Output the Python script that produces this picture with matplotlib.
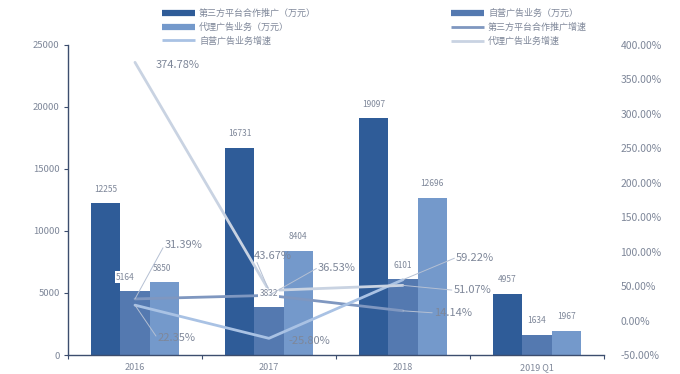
import matplotlib
matplotlib.use('Agg')
import matplotlib.pyplot as plt
from matplotlib.lines import Line2D
from matplotlib.ticker import FuncFormatter, MultipleLocator
import numpy as np

plt.rcParams['font.family'] = ['Noto Sans CJK SC', 'DejaVu Sans']

# ---------------- data ----------------
categories = ['2016', '2017', '2018', '2019 Q1']
third_party = [12255, 16731, 19097, 4957]          # 第三方平台合作推广（万元）
self_run = [5164, 3832, 6101, 1634]                # 自营广告业务（万元）
agency = [5850, 8404, 12696, 1967]                 # 代理广告业务（万元）

growth_categories = ['2016', '2017', '2018']
third_party_growth = [31.39, 36.53, 14.14]         # 第三方平台合作推广增速 (%)
self_run_growth = [22.35, -25.80, 59.22]           # 自营广告业务增速 (%)
agency_growth = [374.78, 43.67, 51.07]             # 代理广告业务增速 (%)

bar_names = ['第三方平台合作推广（万元）', '自营广告业务（万元）', '代理广告业务（万元）']
line_names = ['第三方平台合作推广增速', '自营广告业务增速', '代理广告业务增速']

left_ticks = [0, 5000, 10000, 15000, 20000, 25000]

# ---------------- style ----------------
bar_colors = ['#2F5C98', '#5479B0', '#7499CB']
line_colors = ['#7F97C0', '#A9C2E4', '#C9D3E2']
text_color = '#7E8799'
axis_color = '#3C4D6E'

fig = plt.figure(figsize=(6.8, 3.74), dpi=100)
ax = fig.add_axes([0.100, 0.0508, 0.788, 0.829])
ax2 = ax.twinx()

x = np.arange(len(categories))
w = 0.22
offsets = [-w, 0, w]
series = [third_party, self_run, agency]
for s, off, c in zip(series, offsets, bar_colors):
    ax.bar(x + off, s, width=w, color=c, zorder=2)

ax.set_xlim(-0.5, len(categories) - 0.5)
ax.set_ylim(0, 25000)
ax.set_yticks(left_ticks)
ax.set_yticklabels([str(t) for t in left_ticks], fontsize=6.8, color=text_color)
ax.set_xticks(x)
ax.set_xticklabels(categories, fontsize=6.5, color=text_color)
ax.tick_params(axis='x', which='major', length=0, pad=6)
ax.set_xticks(np.arange(-0.5, len(categories)), minor=True)
ax.tick_params(axis='x', which='minor', length=3, color=axis_color, width=0.8)
ax.tick_params(axis='y', length=3, color=axis_color, width=0.8, pad=3)
for sp in ['top', 'right']:
    ax.spines[sp].set_visible(False)
ax.spines['left'].set_color(axis_color)
ax.spines['bottom'].set_color(axis_color)
ax.spines['left'].set_linewidth(1.0)
ax.spines['bottom'].set_linewidth(1.0)

# ---------------- lines ----------------
gx = np.arange(len(growth_categories))
growths = [third_party_growth, self_run_growth, agency_growth]
for g, c in zip(growths, line_colors):
    ax2.plot(gx, g, color=c, lw=2.0, solid_capstyle='round', zorder=3)

ax2.set_ylim(-50, 400)
ax2.yaxis.set_major_locator(MultipleLocator(50))
ax2.yaxis.set_major_formatter(FuncFormatter(lambda v, p: f'{v:.2f}%'))
ax2.tick_params(axis='y', length=0, labelsize=7.5, labelcolor=text_color, pad=12)
for sp in ax2.spines.values():
    sp.set_visible(False)

# bar value labels (drawn on the top axes so they sit above the lines)
bar_label_dx = [[0, 0, 0, 0], [-7, 0, 0, 0], [-2, 0, 0, 0]]
for si, (s, off) in enumerate(zip(series, offsets)):
    for i, v in enumerate(s):
        bb = None
        if si == 1 and i in (0, 1):
            bb = dict(boxstyle='square,pad=0.15', fc='white', ec='none')
        ax2.annotate(str(v), xy=(x[i] + off, v), xycoords=ax.transData,
                     xytext=(bar_label_dx[si][i], 10),
                     textcoords='offset points', ha='center', va='center',
                     fontsize=6, color=text_color, bbox=bb, zorder=5)

# growth labels (offsets in points from each point)
label_offsets = {
    0: [(35, 39), (49, 20), (36, -1.5)],
    1: [(30, -24), (29, -2), (52, 16)],
    2: [(31, -2), (3, 25), (50, -3.5)],
}
leader = {0: [True, True, True], 1: [True, False, True], 2: [False, True, True]}
for gi, g in enumerate(growths):
    for i, v in enumerate(g):
        dx, dy = label_offsets[gi][i]
        ap = None
        if leader[gi][i]:
            ap = dict(arrowstyle='-', color='#B5C0D3', lw=0.7, shrinkA=0, shrinkB=0,
                      relpos=(0, 0.5))
        ax2.annotate(f'{v:.2f}%', xy=(gx[i], v), xytext=(dx, dy),
                     textcoords='offset points', ha='center', va='center',
                     fontsize=8, color=text_color, arrowprops=ap, zorder=6,
                     bbox=dict(boxstyle='square,pad=0.15', fc='none', ec='none'))

# ---------------- legend ----------------
bar_handles = [Line2D([], [], color=c, lw=4.5, solid_capstyle='butt') for c in bar_colors]
line_handles = [Line2D([], [], color=c, lw=2.0, solid_capstyle='butt') for c in line_colors]
col1 = [bar_handles[0], bar_handles[2], line_handles[1]]
col1_l = [bar_names[0], bar_names[2], line_names[1]]
col2 = [bar_handles[1], line_handles[0], line_handles[2]]
col2_l = [bar_names[1], line_names[0], line_names[2]]
common = dict(frameon=False, fontsize=6.5, labelcolor=text_color, handlelength=3.6,
              handletextpad=0.5, labelspacing=0.5, borderpad=0, borderaxespad=0)
fig.legend(col1, col1_l, loc='upper left', bbox_to_anchor=(162 / 680, 1 - 9 / 374), **common)
fig.legend(col2, col2_l, loc='upper left', bbox_to_anchor=(451 / 680, 1 - 9 / 374), **common)

fig.savefig('out.png', dpi=100, facecolor='white')
